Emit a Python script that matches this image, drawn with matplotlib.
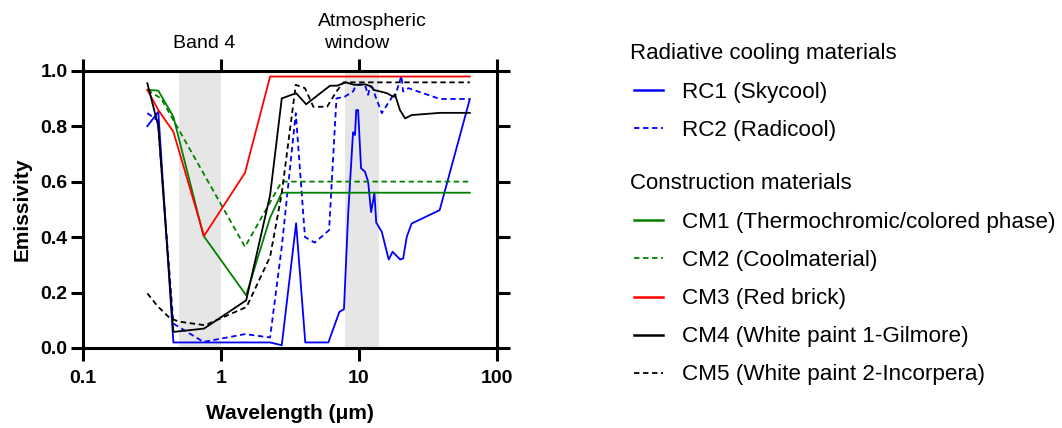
import matplotlib
matplotlib.use("Agg")
import matplotlib.pyplot as plt
from matplotlib.lines import Line2D
from matplotlib.ticker import FixedLocator, FixedFormatter, NullLocator

plt.rcParams.update({"font.family": ["Liberation Sans", "DejaVu Sans"]})

# ---- data (wavelength in um, emissivity) ----
rc1_x = [0.294, 0.353, 0.454, 2.28, 2.77, 3.52, 4.1, 6.03, 7.24, 7.82, 8.4, 9.1, 9.4, 9.6, 9.9,
         10.4, 11.1, 11.7, 12.3, 13.0, 13.4, 14.7, 16.5, 17.6, 20.0, 21.0, 22.3, 24.2, 38.6, 63.9]
rc1_y = [0.80, 0.852, 0.02, 0.02, 0.01, 0.45, 0.02, 0.02, 0.13, 0.14, 0.49, 0.778, 0.768, 0.858, 0.858,
         0.648, 0.636, 0.60, 0.49, 0.558, 0.452, 0.419, 0.319, 0.347, 0.319, 0.323, 0.401, 0.449, 0.497, 0.898]

rc2_x = [0.294, 0.35, 0.454, 0.75, 1.5, 2.28, 2.77, 3.5, 4.08, 4.8, 6.1, 6.9, 7.9, 9.1, 9.6,
         11.1, 11.7, 12.1, 12.7, 13.1, 14.7, 17.2, 18.0, 18.3, 20.4, 21.0, 22.9, 38.8, 63.9]
rc2_y = [0.847, 0.82, 0.088, 0.022, 0.05, 0.038, 0.365, 0.847, 0.40, 0.38, 0.425, 0.90, 0.906, 0.925, 0.949,
         0.949, 0.913, 0.943, 0.937, 0.913, 0.847, 0.90, 0.918, 0.906, 0.982, 0.925, 0.937, 0.898, 0.898]

cm1_x = [0.294, 0.353, 0.454, 0.75, 1.53, 2.28, 2.77, 63.9]
cm1_y = [0.931, 0.928, 0.834, 0.405, 0.19, 0.47, 0.56, 0.56]

cm2_x = [0.294, 0.37, 1.5, 2.77, 63.9]
cm2_y = [0.93, 0.90, 0.365, 0.60, 0.60]

cm3_x = [0.294, 0.353, 0.454, 0.757, 1.5, 2.28, 63.9]
cm3_y = [0.931, 0.858, 0.78, 0.404, 0.632, 0.979, 0.979]

cm4_x = [0.294, 0.353, 0.454, 0.757, 1.53, 2.28, 2.77, 3.52, 4.16, 6.2, 7.0, 8.05, 9.3, 11.1,
         12.4, 12.8, 16.0, 17.8, 18.3, 19.9, 21.7, 24.2, 38.8, 63.9]
cm4_y = [0.955, 0.80, 0.058, 0.070, 0.172, 0.551, 0.90, 0.919, 0.879, 0.946, 0.946, 0.958, 0.949, 0.951,
         0.943, 0.931, 0.919, 0.906, 0.915, 0.858, 0.828, 0.84, 0.848, 0.848]

cm5_x = [0.294, 0.35, 0.43, 0.5, 0.77, 1.54, 2.28, 2.77, 3.5, 4.08, 4.69, 5.9, 6.9, 7.75, 63.9]
cm5_y = [0.197, 0.15, 0.107, 0.095, 0.082, 0.148, 0.329, 0.558, 0.949, 0.937, 0.87, 0.87, 0.925, 0.958, 0.958]

series = [
    ("RC1 (Skycool)", rc1_x, rc1_y, "#0000ff", "-"),
    ("RC2 (Radicool)", rc2_x, rc2_y, "#0000ff", "--"),
    ("CM1 (Thermochromic/colored phase)", cm1_x, cm1_y, "#008000", "-"),
    ("CM2 (Coolmaterial)", cm2_x, cm2_y, "#008000", "--"),
    ("CM3 (Red brick)", cm3_x, cm3_y, "#ff0000", "-"),
    ("CM4 (White paint 1-Gilmore)", cm4_x, cm4_y, "#000000", "-"),
    ("CM5 (White paint 2-Incorpera)", cm5_x, cm5_y, "#000000", "--"),
]

band4 = (0.5, 1.0)
atm_window = (8.0, 14.0)

W, H = 1062, 428
fig = plt.figure(figsize=(W / 100, H / 100), dpi=100)
ax = fig.add_axes([82.7 / W, 1 - 348 / H, (496.7 - 82.7) / W, (348 - 70.7) / H])


def fx(px):
    return px / W


def fy(py):
    return 1 - py / H


ax.axvspan(*band4, color="#e6e6e6", lw=0, zorder=0)
ax.axvspan(*atm_window, color="#e6e6e6", lw=0, zorder=0)

for name, xs, ys, col, ls in series:
    dash = (0, (3, 2)) if ls == "--" else "-"
    ax.plot(xs, ys, color=col, linestyle=dash, lw=1.3, zorder=3)

ax.set_xscale("log")
ax.set_xlim(0.1, 100)
ax.set_ylim(0, 1.0)
ax.xaxis.set_major_locator(FixedLocator([0.1, 1, 10, 100]))
ax.xaxis.set_major_formatter(FixedFormatter(["0.1", "1", "10", "100"]))
ax.xaxis.set_minor_locator(NullLocator())
ax.set_yticks([0, 0.2, 0.4, 0.6, 0.8, 1.0])
ax.set_yticklabels(["0.0", "0.2", "0.4", "0.6", "0.8", "1.0"])

for sp in ax.spines.values():
    sp.set_linewidth(2.2)
ax.tick_params(axis="both", which="major", direction="out", length=9, width=2.2,
               labelsize=14, top=True, right=True)
ax.tick_params(axis="x", pad=7)
ax.tick_params(axis="y", pad=2)
for lab in ax.get_xticklabels() + ax.get_yticklabels():
    lab.set_fontweight("bold")

ax.set_xlabel("Wavelength (\u03bcm)", fontsize=15, fontweight="bold", labelpad=12)
ax.set_ylabel("Emissivity", fontsize=15, fontweight="bold", labelpad=6)

# band annotations above the plot
fig.text(fx(204), fy(44), "Band 4", fontsize=14, ha="center", va="center")
fig.text(fx(372), fy(21), "Atmospheric", fontsize=14, ha="center", va="center")
fig.text(fx(357), fy(44), "window", fontsize=14, ha="center", va="center")

# manual legend
fig.text(fx(630), fy(59.3), "Radiative cooling materials", fontsize=16, ha="left", va="baseline")
fig.text(fx(630), fy(189.3), "Construction materials", fontsize=16, ha="left", va="baseline")
line_y = [90, 128.3, 220, 258.3, 296.7, 335, 372.7]
base_y = [98.3, 136, 228.3, 266, 304, 342.3, 380]
for (name, xs, ys, col, ls), ly, by in zip(series, line_y, base_y):
    dash = (0, (3, 2)) if ls == "--" else "-"
    fig.add_artist(Line2D([fx(634), fx(663)], [fy(ly), fy(ly)], color=col,
                          linestyle=dash, lw=1.3 if ls == "--" else 1.8))
    fig.text(fx(682), fy(by), name, fontsize=16.2, ha="left", va="baseline")

fig.savefig("out.png", dpi=100)
